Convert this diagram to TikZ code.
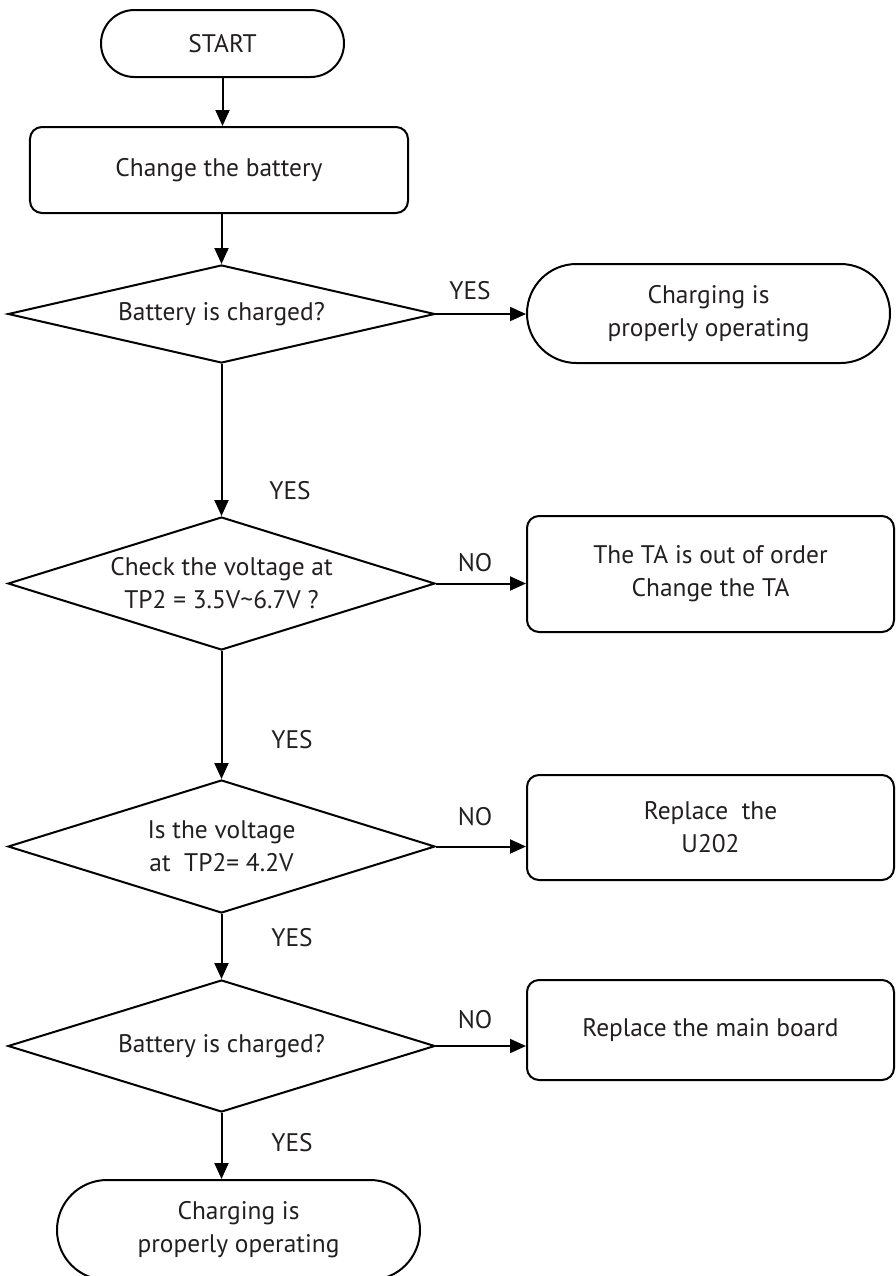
\documentclass[tikz,border=0pt]{standalone}
\usepackage{fontspec}
\setmainfont{PT Sans}
\usetikzlibrary{shapes.geometric,arrows.meta}
\definecolor{ink}{HTML}{231F20}
\tikzset{
  every node/.style={font=\fontsize{25.5}{33}\selectfont, text=ink},
  line/.style={draw=black, line width=2bp},
  term/.style={line, rectangle, inner sep=0pt, align=center},
  proc/.style={line, rectangle, rounded corners=12bp, inner sep=0pt, align=center},
  dia/.style={line, diamond, inner sep=0pt, minimum width=427bp},
  arr/.style={line, -{Triangle[length=16bp,width=14bp]}},
  lbl/.style={inner sep=0pt}
}
\begin{document}
\begin{tikzpicture}[x=1bp,y=-1bp]
\useasboundingbox (0,0) rectangle (896,1276);
% nodes
\node[term, rounded corners=33.5bp, minimum width=243bp, minimum height=67bp] (start) at (222.5,43.5) {START};
\node[proc, minimum width=378bp, minimum height=86bp] (chg) at (219,170) {Change the battery};
\node[dia, minimum height=98bp, label={[align=center]center:Battery is charged?}] (d1) at (221.5,314) {};
\node[term, rounded corners=49.5bp, minimum width=363bp, minimum height=99bp] (ok1) at (708.5,313.5) {Charging is\\properly operating};
\node[dia, minimum height=133bp, label={[align=center]center:Check the voltage at\\TP2 = 3.5V\textasciitilde6.7V ?}] (d2) at (221.5,583.5) {};
\node[proc, minimum width=367bp, minimum height=116bp] (ta) at (710.5,574) {The TA is out of order\\Change the TA};
\node[dia, minimum height=133bp, label={[align=center]center:Is the voltage\\at\ \ TP2= 4.2V}] (d3) at (221.5,846.5) {};
\node[proc, minimum width=367bp, minimum height=105bp] (u202) at (710.5,827.5) {Replace\ \ the\\U202};
\node[dia, minimum height=132bp, label={[align=center]center:Battery is charged?}] (d4) at (221.5,1046) {};
\node[proc, minimum width=367bp, minimum height=100bp] (mb) at (710.5,1030) {Replace the main board};
\node[term, rounded corners=50bp, minimum width=363bp, minimum height=100bp] (ok2) at (238.5,1230) {Charging is\\properly operating};
% connectors
\draw[arr] (start.south) -- (start.south |- chg.north);
\draw[arr] (chg.south -| d1.north) -- (d1.north);
\draw[arr] (d1.east) -- (ok1.west |- d1.east);
\draw[arr] (d1.south) -- (d2.north);
\draw[arr] (d2.east) -- (ta.west |- d2.east);
\draw[arr] (d2.south) -- (d3.north);
\draw[arr] (d3.east) -- (u202.west |- d3.east);
\draw[arr] (d3.south) -- (d4.north);
\draw[arr] (d4.east) -- (mb.west |- d4.east);
\draw[arr] (d4.south) -- (ok2.north -| d4.south);
% labels
\node[lbl] (y1) at (470,291) {YES};
\node[lbl] (y2) at (290,491) {YES};
\node[lbl] (n2) at (475,563) {NO};
\node[lbl] (y3) at (292,740) {YES};
\node[lbl] (n3) at (475,817) {NO};
\node[lbl] (y4) at (292,938) {YES};
\node[lbl] (n4) at (475,1020) {NO};
\node[lbl] (y5) at (292,1143) {YES};
\end{tikzpicture}
\end{document}
